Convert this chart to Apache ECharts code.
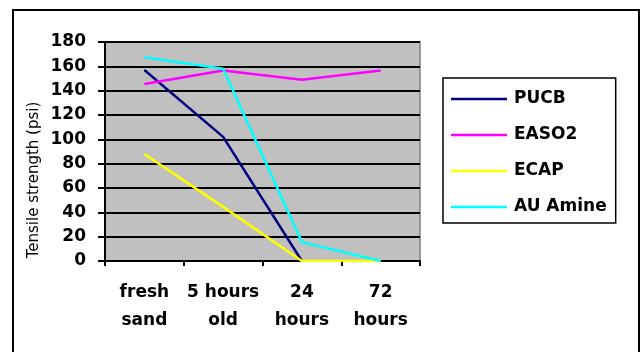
<!DOCTYPE html>
<html><head><meta charset="utf-8">
<script src="https://cdn.jsdelivr.net/npm/echarts@6/dist/echarts.min.js"></script>
<style>html,body{margin:0;padding:0;background:#fff}#c{width:641px;height:352px}</style>
</head><body><div id="c"></div>
<script>
const categories = ['fresh\nsand', '5 hours\nold', '24\nhours', '72\nhours'];
const seriesNames = ['PUCB', 'EASO2', 'ECAP', 'AU Amine'];
const pucb = [157, 102, 0, null];
const easo2 = [145.5, 156.5, 149, 156.5];
const ecap = [88, 44.5, 0, 0];
const auAmine = [167.5, 158, 15.5, 0];
const yTicks = { min: 0, max: 180, interval: 20 };
const colors = ['#000080', '#FF00FF', '#FFFF00', '#00FFFF'];
const values = [pucb, easo2, ecap, auAmine];
const font = 'DejaVu Sans';

const chart = echarts.init(document.getElementById('c'), null, { renderer: 'canvas' });
chart.setOption({
  animation: false,
  backgroundColor: '#fff',
  grid: { left: 105, right: 221, top: 42, bottom: 91, show: true, backgroundColor: '#C0C0C0', borderColor: '#808080', borderWidth: 1.5 },
  xAxis: {
    type: 'category', data: categories, boundaryGap: true,
    axisLine: { lineStyle: { color: '#000', width: 2 } },
    axisTick: { show: true, length: 5, lineStyle: { color: '#000', width: 2 } },
    axisLabel: { color: '#000', fontFamily: font, fontWeight: 'bold', fontSize: 17, lineHeight: 28, margin: 18, interval: 0 },
    splitLine: { show: false }
  },
  yAxis: {
    type: 'value', min: yTicks.min, max: yTicks.max, interval: yTicks.interval,
    axisLine: { show: true, lineStyle: { color: '#000', width: 2 } },
    axisTick: { show: true, length: 7, lineStyle: { color: '#000', width: 2 } },
    axisLabel: { color: '#000', fontFamily: font, fontWeight: 'bold', fontSize: 17, margin: 19 },
    splitLine: { show: true, lineStyle: { color: '#000', width: 2 } }
  },
  legend: {
    orient: 'vertical', left: 443, top: 78,
    padding: [11, 9, 6, 8],
    borderColor: '#000', borderWidth: 1.5,
    icon: 'rect',
    itemWidth: 56, itemHeight: 2.5, itemGap: 16,
    textStyle: { color: '#000', fontFamily: font, fontWeight: 'bold', fontSize: 17, lineHeight: 20, padding: [0, 0, 0, 2] },
    data: seriesNames
  },
  graphic: [
    { type: 'rect', shape: { x: 13, y: 10, width: 626, height: 400 }, style: { fill: 'none', stroke: '#000', lineWidth: 2 }, silent: true, z: -10 },
    { type: 'text', x: 34, y: 180, rotation: Math.PI / 2,
      style: { text: 'Tensile strength (psi)', fill: '#000', font: '15px "DejaVu Sans"', textAlign: 'center', textVerticalAlign: 'middle' } }
  ],
  series: seriesNames.map((n, i) => ({
    name: n, type: 'line', data: values[i], symbol: 'none', showSymbol: false,
    color: colors[i],
    itemStyle: { color: colors[i] },
    lineStyle: { color: colors[i], width: 2.5 }
  }))
});
</script></body></html>
